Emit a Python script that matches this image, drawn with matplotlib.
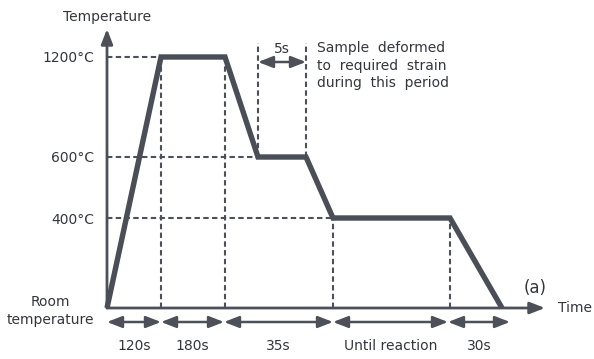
import matplotlib
matplotlib.use("Agg")
import matplotlib.pyplot as plt

# ---- data (schematic, not to scale) ----
level_labels = ["Room\ntemperature", "400°C", "600°C", "1200°C"]
level_heights = [0, 90, 151, 251]          # schematic heights of the temperature levels

profile_time = [0, 54, 118, 151, 199, 226, 343, 395]   # schematic time positions
profile_level = [0, 3, 3, 2, 2, 1, 1, 0]               # index into level_heights

phase_labels = ["120s", "180s", "35s", "Until reaction", "30s"]
phase_edges = [0, 54, 117, 226, 341, 403]

deform_window = [151, 199]
deform_label = "5s"
deform_note = "Sample  deformed\nto  required  strain\nduring  this  period"

x_axis_end = 438
y_axis_end = 279

# ---- style ----
LINE = "#4a4e57"
AXC = "#4c5058"
TXT = "#33363d"
DASH = (2.6, 1.6)
FS = 10

plt.rcParams["font.family"] = ["DejaVu Sans"]

fig = plt.figure(figsize=(5.94, 3.59), dpi=100)
fig.patch.set_facecolor("white")
ax = fig.add_axes([107 / 594, 51 / 359, 438 / 594, 279 / 359])
ax.set_xlim(0, x_axis_end)
ax.set_ylim(0, y_axis_end)
for s in ax.spines.values():
    s.set_visible(False)
ax.set_xticks([])
ax.set_yticks(level_heights, level_labels)
ax.tick_params(axis="y", length=0, pad=9, labelsize=FS, labelcolor=TXT)
for lab in ax.get_yticklabels():
    lab.set_multialignment("center")
    lab.set_linespacing(1.35)

# axes with arrows
arrow_kw = dict(arrowstyle="-|>,head_length=0.9,head_width=0.35", lw=2,
                color=AXC, shrinkA=0, shrinkB=0, mutation_scale=10)
ax.annotate("", xy=(x_axis_end, 0), xytext=(0, 0), arrowprops=arrow_kw,
            annotation_clip=False)
ax.annotate("", xy=(0, y_axis_end), xytext=(0, 0), arrowprops=arrow_kw,
            annotation_clip=False)

# temperature profile
py = [level_heights[i] for i in profile_level]

# guide dashes: horizontal from axis to the first corner of each level
for lvl in (3, 2, 1):
    h = level_heights[lvl]
    xs = [t for t, l in zip(profile_time, profile_level) if l == lvl]
    ax.plot([0, xs[0]], [h, h], color=AXC, lw=1.5, dashes=DASH, zorder=1)

# vertical dashes at the stage boundaries
for i in (1, 2, 5, 6):
    ax.plot([profile_time[i]] * 2, [0, py[i]], color=AXC, lw=1.5,
            dashes=DASH, zorder=1)
# deformation window
for t in deform_window:
    ax.plot([t, t], [level_heights[2], level_heights[2] + 114], color=AXC,
            lw=1.5, dashes=DASH, zorder=1)

ax.plot(profile_time, py, color=LINE, lw=3.9, solid_joinstyle="miter",
        solid_capstyle="butt", zorder=3, clip_on=False)

# deformation arrow
dbl_kw = dict(arrowstyle="<|-|>,head_length=0.9,head_width=0.35", lw=1.8,
              color=AXC, shrinkA=0, shrinkB=0, mutation_scale=10)
ax.annotate("", xy=(deform_window[1], 246), xytext=(deform_window[0], 246),
            arrowprops=dbl_kw, annotation_clip=False)
ax.text(sum(deform_window) / 2, 259, deform_label, ha="center", va="center",
        fontsize=FS, color=TXT)
ax.text(deform_window[1] + 11, 267, deform_note, ha="left", va="top",
        fontsize=FS, color=TXT, linespacing=1.32)

# phase arrows along the bottom
for a, b, lab in zip(phase_edges[:-1], phase_edges[1:], phase_labels):
    ax.annotate("", xy=(b, -14), xytext=(a, -14), arrowprops=dbl_kw,
                annotation_clip=False)
    ax.text((a + b) / 2, -38, lab, ha="center", va="center", fontsize=FS,
            color=TXT)

# axis titles
ax.text(0, 291, "Temperature", ha="center", va="center", fontsize=FS,
        color=TXT)
ax.text(451, 0, "Time", ha="left", va="center", fontsize=FS, color=TXT)
ax.text(428, 20, "(a)", ha="center", va="center", fontsize=12, color=TXT)

fig.savefig("out.png", dpi=100, facecolor="white")
